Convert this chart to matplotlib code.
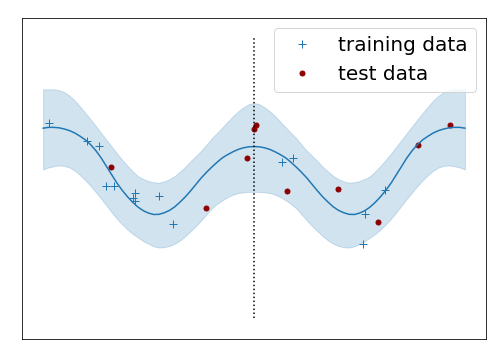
import numpy as np
import matplotlib.pyplot as plt

# posterior mean and band (symmetric about x=0, step 0.125)
x_half = np.arange(41) * 0.125
half_mean = [0.79, 0.785, 0.76, 0.72, 0.66, 0.59, 0.51, 0.40, 0.28, 0.15,
             0.01, -0.15, -0.31, -0.46, -0.59, -0.71, -0.80, -0.86, -0.90, -0.905,
             -0.87, -0.81, -0.72, -0.60, -0.46, -0.30, -0.12, 0.09, 0.30, 0.51,
             0.69, 0.84, 0.96, 1.05, 1.13, 1.19, 1.23, 1.26, 1.27, 1.27, 1.25]
half_upper = [1.88, 1.85, 1.77, 1.67, 1.55, 1.41, 1.27, 1.13, 1.0, 0.84,
              0.69, 0.56, 0.43, 0.29, 0.17, 0.06, -0.02, -0.08, -0.11, -0.10,
              -0.07, -0.02, 0.05, 0.17, 0.31, 0.46, 0.62, 0.79, 0.96, 1.13,
              1.30, 1.47, 1.63, 1.79, 1.94, 2.06, 2.15, 2.20, 2.22, 2.22, 2.22]
half_lower = [-0.34, -0.34, -0.35, -0.37, -0.41, -0.47, -0.55, -0.64, -0.75, -0.90,
              -1.05, -1.19, -1.32, -1.44, -1.55, -1.63, -1.69, -1.72, -1.73, -1.70,
              -1.64, -1.57, -1.48, -1.39, -1.28, -1.15, -1.01, -0.85, -0.68, -0.51,
              -0.35, -0.19, -0.05, 0.08, 0.19, 0.27, 0.31, 0.32, 0.30, 0.27, 0.22]

x_grid = np.concatenate([-x_half[::-1], x_half[1:]])
mean = np.array(half_mean[::-1] + half_mean[1:])
upper = np.array(half_upper[::-1] + half_upper[1:])
lower = np.array(half_lower[::-1] + half_lower[1:])

x_train = [-4.87, -3.97, -3.67, -3.50, -3.31, -2.82, -2.86, -2.81, -2.25, -1.91,
           0.67, 0.93, 2.63, 2.58, 3.11]
y_train = [1.37, 0.94, 0.80, -0.19, -0.19, -0.36, -0.50, -0.57, -0.45, -1.13,
           0.41, 0.50, -0.88, -1.64, -0.29]

x_test = [-3.38, -1.14, -0.16, 0.00, 0.05, 0.79, 2.00, 2.95, 3.89, 4.65]
y_test = [0.27, -0.74, 0.50, 1.22, 1.33, -0.32, -0.28, -1.10, 0.83, 1.33]

fig = plt.figure(figsize=(7, 5), dpi=72)
ax = fig.add_axes([0.0437, 0.0597, 0.9206, 0.8903])

ax.plot(x_train, y_train, '+', color='C0', markersize=8, label='training data')
ax.plot(x_test, y_test, 'o', color='darkred', markersize=5, label='test data')
ax.plot(x_grid, mean, color='C0', linewidth=1.5)
ax.fill_between(x_grid, lower, upper, color='C0', alpha=0.2)
ax.vlines(0, -3.5, 3.5, colors='k', linestyles=':', linewidth=1.5)

ax.set_ylim(-4, 4)
ax.set_xticks([])
ax.set_yticks([])
ax.legend(loc='upper right', fontsize=20)

fig.savefig('out.png', dpi=72)
